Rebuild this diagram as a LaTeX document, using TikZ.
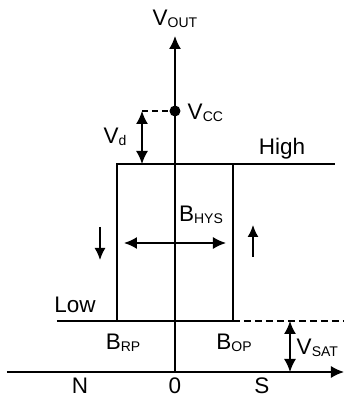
\documentclass[tikz,border=0pt]{standalone}
\usepackage{fontspec}
\setmainfont{Liberation Sans}
\usetikzlibrary{arrows.meta}
\newcommand{\lowsub}[1]{\raisebox{-2pt}{\fontsize{14}{14}\selectfont #1}}

\begin{document}
\begin{tikzpicture}[x=1pt,y=1pt,line width=1.5pt,>={Latex[length=13pt,width=12pt]},font=\fontsize{22.5}{26}\selectfont]
	\tikzset{lbl/.style={inner sep=0pt,anchor=base}, small arrow/.style={-{Latex[length=12pt,width=11pt]}}}
	\useasboundingbox (-175,-28) rectangle (169,372);
	% axes
	\coordinate (O) at (0,0);
	\coordinate (W) at (-168,0);
	\coordinate (E) at (169,0);
	\coordinate (T) at (0,336);
	\draw[->] (W)--(E);
	\draw[->] (O)--(T);
	% hysteresis loop
	\coordinate (rpL) at (-58,51);
	\coordinate (rpH) at (-58,208);
	\coordinate (opL) at (58,51);
	\coordinate (opH) at (58,208);
	\coordinate (hiE) at (160,208);
	\coordinate (loW) at (-118,51);
	\coordinate (satE) at (172,51);
	\draw (rpL)--(rpH)--(hiE);
	\draw (loW)--(opL)--(opH);
	\draw[dash pattern=on 7pt off 4pt] (opL)--(satE);
	% Vcc and Vd
	\coordinate (vcc) at (0,261);
	\coordinate (vdT) at (-33,261);
	\coordinate (vdB) at (-33,208);
	\draw[dash pattern=on 6pt off 4pt] (vdT)--(vcc);
	\fill (vcc) circle (5.5pt);
	\draw[<->] (vdB)--(vdT);
	% Vsat
	\coordinate (satT) at (115,51);
	\coordinate (satB) at (115,0);
	\draw[<->] (satB)--(satT);
	% Bhys and direction arrows
	\coordinate (hysL) at (-51,129);
	\coordinate (hysR) at (51,129);
	\draw[<->] (hysL)--(hysR);
	\coordinate (dnT) at (-75,145);
	\coordinate (dnB) at (-75,112);
	\draw[small arrow] (dnT)--(dnB);
	\coordinate (upB) at (78,115);
	\coordinate (upT) at (78,147);
	\draw[small arrow] (upB)--(upT);
	% labels
	\node[lbl] (vout) at (0,346) {V\lowsub{OUT}};
	\node[lbl,anchor=base west] (vcclbl) at (12,252) {V\lowsub{CC}};
	\node[lbl] (vdlbl) at (-60,228) {V\lowsub{d}};
	\node[lbl] (high) at (107,217) {High};
	\node[lbl] (low) at (-100,59) {Low};
	\node[lbl] (bhys) at (26,150) {B\lowsub{HYS}};
	\node[lbl] (brp) at (-52,23) {B\lowsub{RP}};
	\node[lbl] (bop) at (59,23) {B\lowsub{OP}};
	\node[lbl,anchor=base west] (vsat) at (121,17) {V\lowsub{SAT}};
	\node[lbl] (n) at (-95,-22) {N};
	\node[lbl] (zero) at (0,-22) {0};
	\node[lbl] (s) at (87,-22) {S};
\end{tikzpicture}
\end{document}
